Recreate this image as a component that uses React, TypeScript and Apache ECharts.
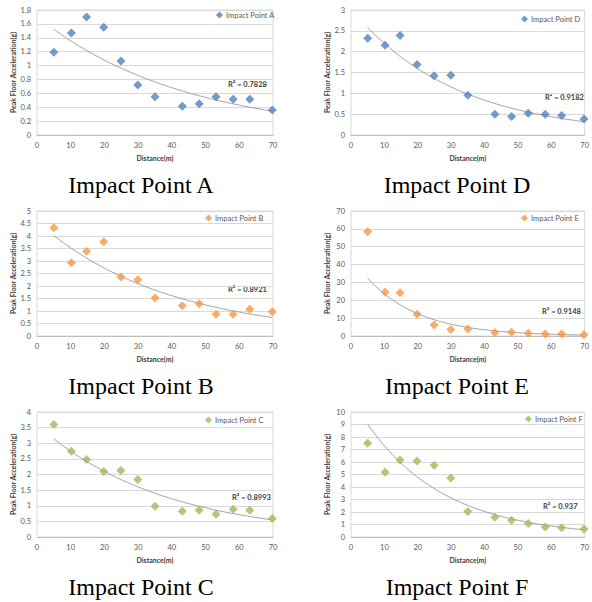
import React, { useEffect, useRef } from "react";
import * as echarts from "echarts";

const distances = [5, 10.2, 14.7, 19.8, 24.9, 29.9, 35, 43.1, 48.1, 53.1, 58.2, 63.1, 69.8];
const pointA = [1.19, 1.47, 1.7, 1.55, 1.065, 0.72, 0.55, 0.413, 0.45, 0.55, 0.515, 0.515, 0.36];
const pointD = [2.325, 2.156, 2.39, 1.69, 1.424, 1.432, 0.957, 0.499, 0.442, 0.523, 0.499, 0.467, 0.386];
const pointB = [4.33, 2.93, 3.39, 3.77, 2.36, 2.25, 1.52, 1.21, 1.29, 0.87, 0.87, 1.07, 0.97];
const pointE = [58.4, 24.6, 24.2, 12.2, 6.2, 3.6, 3.9, 1.9, 2.1, 1.5, 1.1, 1.1, 0.75];
const pointC = [3.6, 2.745, 2.477, 2.1, 2.13, 1.84, 0.987, 0.826, 0.858, 0.729, 0.89, 0.858, 0.59];
const pointF = [7.5, 5.19, 6.16, 6.08, 5.75, 4.73, 2.04, 1.59, 1.34, 1.08, 0.81, 0.75, 0.65];

const seriesNames = ["Impact Point A", "Impact Point D", "Impact Point B", "Impact Point E", "Impact Point C", "Impact Point F"];
const seriesValues = [pointA, pointD, pointB, pointE, pointC, pointF];
const r2Labels = ["R² = 0.7828", "R² = 0.9182", "R² = 0.8921", "R² = 0.9148", "R² = 0.8993", "R² = 0.937"];
const yMaxes = [1.8, 3, 5, 70, 4, 10];
const yIntervals = [0.2, 0.5, 0.5, 10, 0.5, 1];
const xMax = 70;
const xInterval = 10;

const BLUE = "#4F81BD";
const ORANGE = "#F79646";
const GREEN = "#9BBB59";
const colors = [BLUE, BLUE, ORANGE, ORANGE, GREEN, GREEN];

// layout (pixels)
const gridLefts = [37, 351];
const gridWidths = [236, 235];
const gridTops = [10, 211, 412];
const gridHeight = 125;
const legendPos = [
  [216, 11], [521, 15], [205, 214], [521, 214], [205, 416], [525, 415],
];
const r2Pos = [
  [228, 85], [545, 98], [228, 290], [542, 312], [232, 498], [543, 507],
];

function expFit(xs: number[], ys: number[]) {
  const n = xs.length;
  let sx = 0, sy = 0, sxx = 0, sxy = 0;
  for (let i = 0; i < n; i++) {
    const ly = Math.log(ys[i]);
    sx += xs[i]; sy += ly; sxx += xs[i] * xs[i]; sxy += xs[i] * ly;
  }
  const b = (n * sxy - sx * sy) / (n * sxx - sx * sx);
  const lnA = (sy - b * sx) / n;
  return { a: Math.exp(lnA), b };
}

function trendPoints(xs: number[], ys: number[]) {
  const { a, b } = expFit(xs, ys);
  const x0 = Math.min(...xs);
  const x1 = Math.max(...xs);
  const pts: number[][] = [];
  const steps = 80;
  for (let i = 0; i <= steps; i++) {
    const x = x0 + ((x1 - x0) * i) / steps;
    pts.push([x, a * Math.exp(b * x)]);
  }
  return pts;
}

const FONT = "Lato, 'Open Sans', sans-serif";

export default function App() {
  const ref = useRef<HTMLDivElement>(null);
  useEffect(() => {
    if (!ref.current) return;
    const chart = echarts.init(ref.current, null, { renderer: "svg" });
    const grids: any[] = [];
    const xAxes: any[] = [];
    const yAxes: any[] = [];
    const legends: any[] = [];
    const series: any[] = [];
    const graphics: any[] = [];
    for (let i = 0; i < 6; i++) {
      const col = i % 2;
      const row = Math.floor(i / 2);
      grids.push({
        left: gridLefts[col],
        top: gridTops[row],
        width: gridWidths[col],
        height: gridHeight,
        show: true,
        borderColor: "#d9d9d9",
        borderWidth: 1,
        backgroundColor: "#fff",
      });
      xAxes.push({
        type: "value",
        gridIndex: i,
        min: 0,
        max: xMax,
        interval: xInterval,
        name: "Distance(m)",
        nameLocation: "middle",
        nameGap: 19,
        nameTextStyle: { fontFamily: FONT, fontSize: 7, fontWeight: "bold", color: "#404040" },
        axisLine: { show: true, lineStyle: { color: "#bfbfbf" } },
        axisTick: { show: false },
        splitLine: { show: false },
        axisLabel: { fontFamily: FONT, fontSize: 7.5, color: "#595959", margin: 6 },
      });
      yAxes.push({
        type: "value",
        gridIndex: i,
        min: 0,
        max: yMaxes[i],
        interval: yIntervals[i],
        name: "Peak Floor Acceleration(g)",
        nameLocation: "middle",
        nameGap: 21,
        nameTextStyle: { fontFamily: FONT, fontSize: 7, fontWeight: "bold", color: "#404040" },
        axisLine: { show: false },
        axisTick: { show: false },
        splitLine: { show: true, lineStyle: { color: "#d9d9d9", width: 1 } },
        axisLabel: { fontFamily: FONT, fontSize: 7.5, color: "#595959", margin: 6 },
      });
      legends.push({
        data: [seriesNames[i]],
        left: legendPos[i][0],
        top: legendPos[i][1],
        icon: "diamond",
        itemWidth: 7,
        itemHeight: 7,
        itemGap: 4,
        padding: 0,
        textStyle: { fontFamily: FONT, fontSize: 7.5, color: "#595959", padding: [0, 0, 0, -2] },
      });
      const pts = distances.map((d, k) => [d, seriesValues[i][k]]);
      series.push({
        type: "line",
        name: "trend" + i,
        xAxisIndex: i,
        yAxisIndex: i,
        data: trendPoints(distances, seriesValues[i]),
        showSymbol: false,
        symbol: "none",
        smooth: false,
        lineStyle: { color: "#8c8c8c", width: 0.8 },
        z: 2,
        silent: true,
      });
      series.push({
        type: "scatter",
        name: seriesNames[i],
        xAxisIndex: i,
        yAxisIndex: i,
        data: pts,
        symbol: "diamond",
        symbolSize: 9,
        itemStyle: { color: colors[i] },
        z: 3,
      });
      graphics.push({
        type: "text",
        left: r2Pos[i][0],
        top: r2Pos[i][1] - 5,
        style: {
          text: r2Labels[i],
          fontFamily: FONT,
          fontSize: 7.5,
          fontWeight: "bold",
          fill: "#404040",
        },
      });
      graphics.push({
        type: "text",
        x: gridLefts[col] + (col === 0 ? 104 : 106),
        y: gridTops[row] + gridHeight + 50,
        style: {
          text: seriesNames[i],
          fontFamily: "'Liberation Serif', 'Times New Roman', serif",
          fontSize: 24,
          fill: "#000",
          align: "center",
          verticalAlign: "middle",
        },
      });
    }
    chart.setOption({
      animation: false,
      backgroundColor: "#fff",
      grid: grids,
      xAxis: xAxes,
      yAxis: yAxes,
      legend: legends,
      series,
      graphic: graphics,
    });
    return () => chart.dispose();
  }, []);
  return (
    <div
      ref={ref}
      style={{ position: "absolute", left: 0, top: 0, width: 592, height: 602, background: "#fff" }}
    />
  );
}
